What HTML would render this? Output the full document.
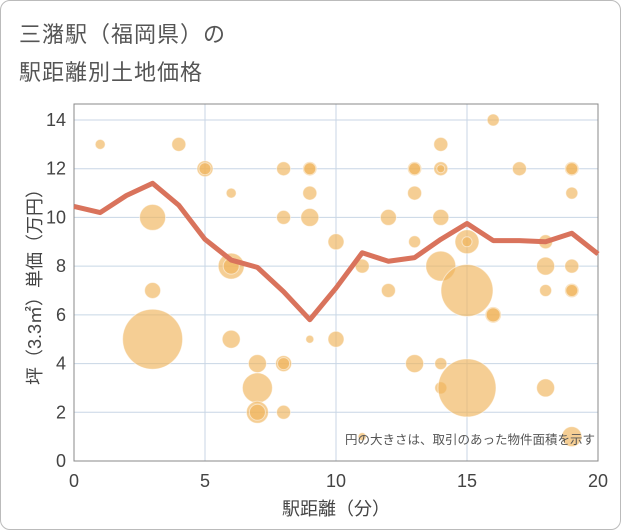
<!DOCTYPE html>
<html><head><meta charset="utf-8"><style>
body{margin:0;background:#fff;font-family:"Liberation Sans","Noto Sans CJK JP",sans-serif;}
#wrap{position:relative;width:621px;height:530px;box-sizing:border-box;border:1px solid #bbb;border-radius:10px;overflow:hidden;background:#fff}
.t{position:absolute;left:18px;color:#555;font-size:22px;letter-spacing:1px}
</style></head><body>
<div id="wrap">
<div class="t" style="top:16px">三潴駅（福岡県）の</div>
<div class="t" style="top:54px">駅距離別土地価格</div>
<svg id="c" width="621" height="530" style="position:absolute;left:0;top:0"></svg>
</div>
<script>
const lineX=[0,1,2,3,4,5,6,7,8,9,10,11,12,13,14,15,16,17,18,19,20];
const lineY=[10.45,10.2,10.9,11.4,10.5,9.1,8.25,7.95,6.95,5.8,7.1,8.55,8.2,8.35,9.1,9.75,9.05,9.05,9.0,9.35,8.5];
const bubX=[1,4,5,5,6,8,9,9,9,8,9,3,10,6,6,3,3,6,7,8,8,7,7,7,8,9,10,11,11,12,12,13,13,13,13,13,14,14,14,14,14,14,14,15,15,15,15,16,16,16,17,18,18,18,18,19,19,19,19,19,19,19];
const bubY=[13,13,12,12,11,12,12,12,11,10,10,10,9,8,8,7,5,5,4,4,4,3,2,2,2,5,5,8,1,10,7,12,12,11,9,4,13,12,12,10,8,4,3,9,9,7,3,14,6,6,12,9,8,7,3,12,12,11,8,7,7,1];
const bubR=[5,7,8,6,5,7,7,6,7,7,9,13,8,13,8,8,30,9,9,8,6,15,11,8,7,4,8,7,4,8,7,7,6,7,6,9,7,7,4,8,15,6,6,12,5,26,29,6,8,7,7,7,9,6,9,7,6,6,7,7,6,10];
const xTicks=[0,5,10,15,20], yTicks=[0,2,4,6,8,10,12,14];
const L=73,R=597,T=103,B=460;
const sx=v=>L+(R-L)*v/20, sy=v=>B-(B-119)*v/14;
const svg=document.getElementById('c'),NS='http://www.w3.org/2000/svg';
function mk(t,a,p){const e=document.createElementNS(NS,t);for(const k in a)e.setAttribute(k,a[k]);(p||svg).appendChild(e);return e;}
const bg=mk('rect',{x:L,y:T,width:R-L,height:B-T,fill:'#fff',stroke:'none'});

xTicks.forEach(v=>{const g=mk('line',{x1:sx(v),x2:sx(v),y1:T,y2:B,stroke:'#c8d6e5','stroke-width':1});

const t=mk('text',{x:sx(v),y:B+26,'text-anchor':'middle','font-size':18,fill:'#444'});t.textContent=v;
});
yTicks.forEach(v=>{const g=mk('line',{x1:L,x2:R,y1:sy(v),y2:sy(v),stroke:'#c8d6e5','stroke-width':1});

const t=mk('text',{x:L-8,y:sy(v)+6,'text-anchor':'end','font-size':18,fill:'#444'});t.textContent=v;
});
const fr=mk('rect',{x:L,y:T,width:R-L,height:B-T,fill:'none',stroke:'#888','stroke-width':1});

bubX.forEach((x,i)=>{const c=mk('circle',{cx:sx(x),cy:sy(bubY[i]),r:bubR[i],fill:'rgba(240,180,90,0.65)',stroke:'rgba(255,255,255,0.5)','stroke-width':1});
});
const p=mk('polyline',{points:lineX.map((x,i)=>sx(x)+','+sy(lineY[i])).join(' '),fill:'none',stroke:'#d9735c','stroke-width':5,'stroke-linejoin':'round'});

const n=mk('text',{x:R-3,y:443,'text-anchor':'end','font-size':12.5,fill:'#555'});n.textContent='円の大きさは、取引のあった物件面積を示す';

const xt=mk('text',{x:(L+R)/2,y:514,'text-anchor':'middle','font-size':18,fill:'#444'});xt.textContent='駅距離（分）';

const yt=mk('text',{x:0,y:0,'text-anchor':'middle','font-size':18,fill:'#444',transform:`translate(40,${(T+B)/2}) rotate(-90)`});yt.textContent='坪（3.3㎡）単価（万円）';

</script>
</body></html>
